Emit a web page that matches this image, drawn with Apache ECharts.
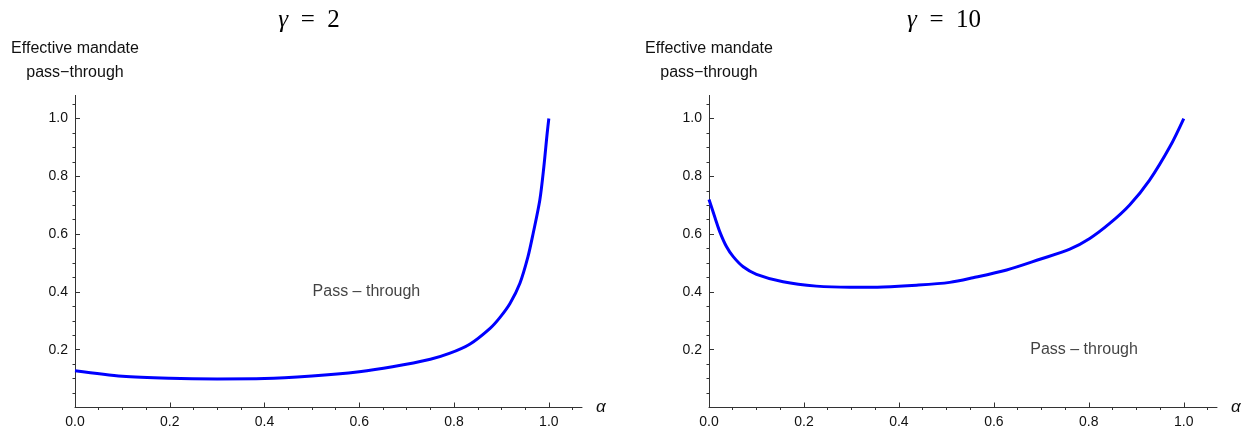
<html style="height: 100%">
	<head>
		<meta charset="utf-8">
	</head>
	<body style="height: 100%; width: 100%; margin: 0; background: #fff">
		<div id="container" style="height: 433px; width: 1254px;"></div>
		<script type="text/javascript" src="https://cdn.jsdelivr.net/npm/echarts@6/dist/echarts.min.js"></script>
		<script type="text/javascript">
			// gamma = 2 panel
			var alpha2 = [0, 0.1, 0.2, 0.3, 0.4, 0.5, 0.6, 0.67, 0.75, 0.79, 0.833, 0.876, 0.897, 0.918, 0.939, 0.956, 0.967, 0.981, 0.9895, 0.9965, 1.0];
			var pass2 = [0.127, 0.108, 0.101, 0.099, 0.100, 0.109, 0.124, 0.141, 0.167, 0.187, 0.219, 0.274, 0.312, 0.360, 0.430, 0.522, 0.603, 0.718, 0.833, 0.949, 1.0];

			// gamma = 10 panel
			var alpha10 = [0, 0.013, 0.023, 0.037, 0.051, 0.072, 0.1, 0.156, 0.226, 0.297, 0.367, 0.437, 0.507, 0.556, 0.627, 0.697, 0.76, 0.802, 0.844, 0.886, 0.928, 0.971, 1.0];
			var pass10 = [0.72, 0.655, 0.607, 0.556, 0.522, 0.487, 0.461, 0.435, 0.42, 0.416, 0.417, 0.423, 0.433, 0.449, 0.476, 0.513, 0.548, 0.585, 0.637, 0.701, 0.787, 0.903, 1.0];

			var titles = ['2', '10'];
			var xMajor = [0, 0.2, 0.4, 0.6, 0.8, 1.0];
			var yMajor = [0.2, 0.4, 0.6, 0.8, 1.0];
			var minorTicks = [0.05, 0.1, 0.15, 0.25, 0.3, 0.35, 0.45, 0.5, 0.55, 0.65, 0.7, 0.75, 0.85, 0.9, 0.95, 1.05];
			var notePos = [[0.615, 0.40], [0.79, 0.2]];
			var noteText = 'Pass \u2013 through';

			var dom = document.getElementById("container");
			var myChart = echarts.init(dom);

			var grids = [
				{left: 75, top: 95.4, width: 507, height: 312.1},
				{left: 709, top: 95.4, width: 508, height: 312.1}
			];
			var titleX = [309, 944];
			var sans = 'Liberation Sans, Arial, sans-serif';
			var serif = 'Liberation Serif, DejaVu Serif, serif';
			var axisColor = '#333';

			function zip(xs, ys) {
				var out = [];
				for (var i = 0; i < xs.length; i++) out.push([xs[i], ys[i]]);
				return out;
			}

			var xAxes = [], yAxes = [], series = [], graphics = [];
			for (var g = 0; g < 2; g++) {
				// main x axis with labels and major ticks
				xAxes.push({
					gridIndex: g, type: 'value', min: 0, max: 1.07,
					axisLine: {onZero: false, lineStyle: {color: axisColor, width: 1}},
					axisTick: {customValues: xMajor, inside: true, length: 5, lineStyle: {color: axisColor}},
					axisLabel: {customValues: xMajor, margin: 8, fontSize: 14, fontFamily: sans, color: '#111',
						formatter: function(v) { return v.toFixed(1); }},
					splitLine: {show: false},
					name: '\u03b1', nameLocation: 'end', nameGap: 14,
					nameTextStyle: {fontSize: 17, fontStyle: 'italic', fontFamily: sans, color: '#111'}
				});
				// minor ticks
				xAxes.push({
					gridIndex: g, type: 'value', min: 0, max: 1.07,
					axisLine: {show: false},
					axisTick: {customValues: minorTicks, inside: true, length: 2.5, lineStyle: {color: axisColor}},
					axisLabel: {show: false},
					splitLine: {show: false}
				});
				yAxes.push({
					gridIndex: g, type: 'value', min: 0, max: 1.08,
					axisLine: {show: true, onZero: false, lineStyle: {color: axisColor, width: 1}},
					axisTick: {show: true, customValues: yMajor, inside: true, length: 5, lineStyle: {color: axisColor}},
					axisLabel: {customValues: yMajor, margin: 7, fontSize: 14, fontFamily: sans, color: '#111',
						formatter: function(v) { return v.toFixed(1); }},
					splitLine: {show: false},
					name: 'Effective mandate\npass\u2212through', nameLocation: 'end', nameGap: 11,
					nameTextStyle: {fontSize: 16, lineHeight: 24, fontFamily: sans, color: '#111', align: 'center'}
				});
				yAxes.push({
					gridIndex: g, type: 'value', min: 0, max: 1.08,
					axisLine: {show: false},
					axisTick: {show: true, customValues: minorTicks, inside: true, length: 2.5, lineStyle: {color: axisColor}},
					axisLabel: {show: false},
					splitLine: {show: false}
				});

				series.push({
					type: 'line',
					xAxisIndex: g * 2, yAxisIndex: g * 2,
					data: g === 0 ? zip(alpha2, pass2) : zip(alpha10, pass10),
					smooth: 0.3,
					showSymbol: false, symbol: 'none',
					lineStyle: {color: '#0000ff', width: 3},
					silent: true, animation: false
				});
				series.push({
					type: 'scatter',
					xAxisIndex: g * 2, yAxisIndex: g * 2,
					data: [notePos[g]],
					symbolSize: 0,
					label: {show: true, position: 'inside', formatter: noteText,
						fontSize: 16, fontFamily: sans, color: '#111'},
					silent: true, animation: false
				});

				graphics.push({
					type: 'text', x: titleX[g], y: 20,
					style: {
						text: '{i|\u03b3}\u2002=\u2002' + titles[g],
						textAlign: 'center', textVerticalAlign: 'middle',
						fontFamily: serif, fontSize: 25, fill: '#000',
						rich: {i: {fontStyle: 'italic', fontFamily: serif, fontSize: 25}}
					}
				});
			}

			var option = {
				backgroundColor: '#fff',
				animation: false,
				grid: grids,
				xAxis: xAxes,
				yAxis: yAxes,
				series: series,
				graphic: graphics
			};

			myChart.setOption(option);
		</script>
	</body>
</html>
